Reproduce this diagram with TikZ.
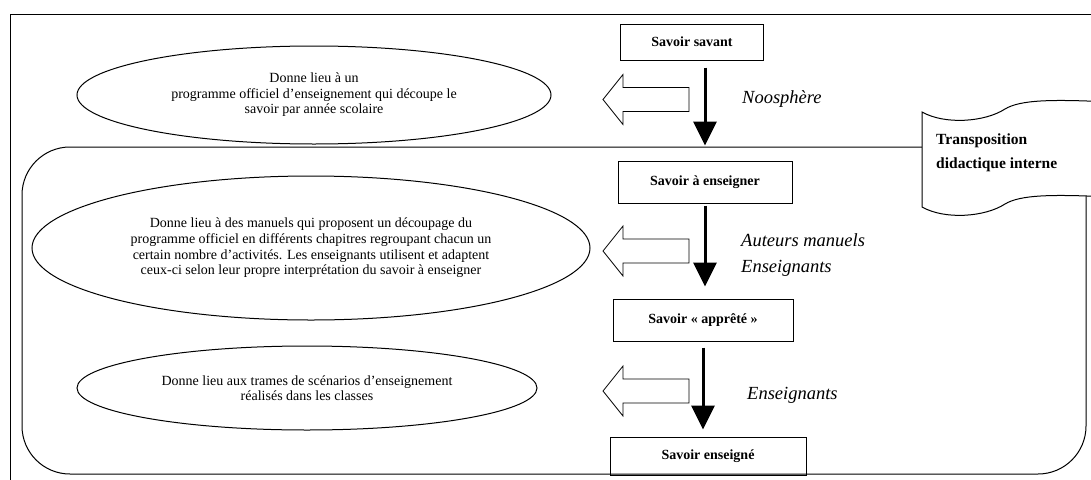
\documentclass[tikz,border=0pt]{standalone}
\usepackage{fontspec}
\setmainfont{Liberation Serif}
\usetikzlibrary{shapes.geometric,arrows.meta}

\tikzset{
  trait/.style={line width=1pt},
  boite/.style={trait, draw, inner sep=0pt, font=\bfseries\fontsize{14}{16}\selectfont},
  bulle/.style={trait, draw, ellipse, inner sep=0pt, align=center, font=\fontsize{14}{15.6}\selectfont},
  etiquette/.style={inner sep=0pt, anchor=west, align=left, font=\itshape\fontsize{18.5}{26}\selectfont},
  fleche/.style={line width=3pt, -{Triangle[length=24pt,width=23pt]}},
  creuse/.style={line width=0.8pt}
}

\begin{document}
\begin{tikzpicture}[x=1pt,y=-1pt]
\useasboundingbox (0,0) rectangle (1091,479);
\clip (0,0) rectangle (1091,479);
% cadres
\draw[trait] (10,14) rectangle (1110,500);
\draw[trait,rounded corners=48] (22,147) rectangle (1086,474);
% bandeau de droite
\draw[trait,fill=white] (922,112) .. controls (945,125) and (985,122) .. (1005,109)
  .. controls (1020,100) and (1050,99) .. (1110,102) -- (1110,197)
  .. controls (1050,194) and (1020,195) .. (1005,204)
  .. controls (985,217) and (945,220) .. (922,207) -- cycle;
\node[inner sep=0pt, anchor=north west, align=left, font=\bfseries\fontsize{15.5}{23.5}\selectfont] (tdi) at (936,134) {Transposition\\didactique interne};
% savoirs
\node[boite, minimum width=143, minimum height=36] (savant) at (692,42) {Savoir savant};
\node[boite, minimum width=174, minimum height=42] (enseigner) at (705,182) {Savoir à enseigner};
\node[boite, minimum width=180, minimum height=42] (apprete) at (703,320) {Savoir «~apprêté~»};
\node[boite, minimum width=196, minimum height=38] (enseigne) at (708,456) {Savoir enseigné};
\draw[fleche, shorten <=7pt, shorten >=15pt] (savant.south -| enseigner.north) -- (enseigner.north);
\draw[fleche, shorten <=2pt, shorten >=12pt] (enseigner.south) -- (enseigner.south |- apprete.north);
\draw[fleche, shorten <=6pt, shorten >=7pt] (apprete.south) -- (apprete.south |- enseigne.north);
\node[etiquette] (noo) at (742,99) {Noosphère};
\node[etiquette] (auteurs) at (741,255) {Auteurs manuels\\Enseignants};
\node[etiquette] (ens) at (747,395) {Enseignants};
% ellipses
\node[bulle, minimum width=474, minimum height=98] (prog) at (314,95) {Donne lieu à un\\programme officiel d’enseignement qui découpe le\\savoir par année scolaire};
\node[bulle, minimum width=558, minimum height=144] (manuels) at (311,248) {Donne lieu à des manuels qui proposent un découpage du\\programme officiel en différents chapitres regroupant chacun un\\certain nombre d’activités. Les enseignants utilisent et adaptent\\ceux-ci selon leur propre interprétation du savoir à enseigner};
\node[bulle, minimum width=460, minimum height=84] (trames) at (307,388) {Donne lieu aux trames de scénarios d’enseignement\\réalisés dans les classes};
% fleches creuses
\foreach \y in {99.5,251,391}
  \draw[creuse] (689,{\y-12}) -- (623,{\y-12}) -- (623,{\y-25}) -- (603,\y) -- (623,{\y+25}) -- (623,{\y+12}) -- (689,{\y+12}) -- cycle;
\end{tikzpicture}
\end{document}
